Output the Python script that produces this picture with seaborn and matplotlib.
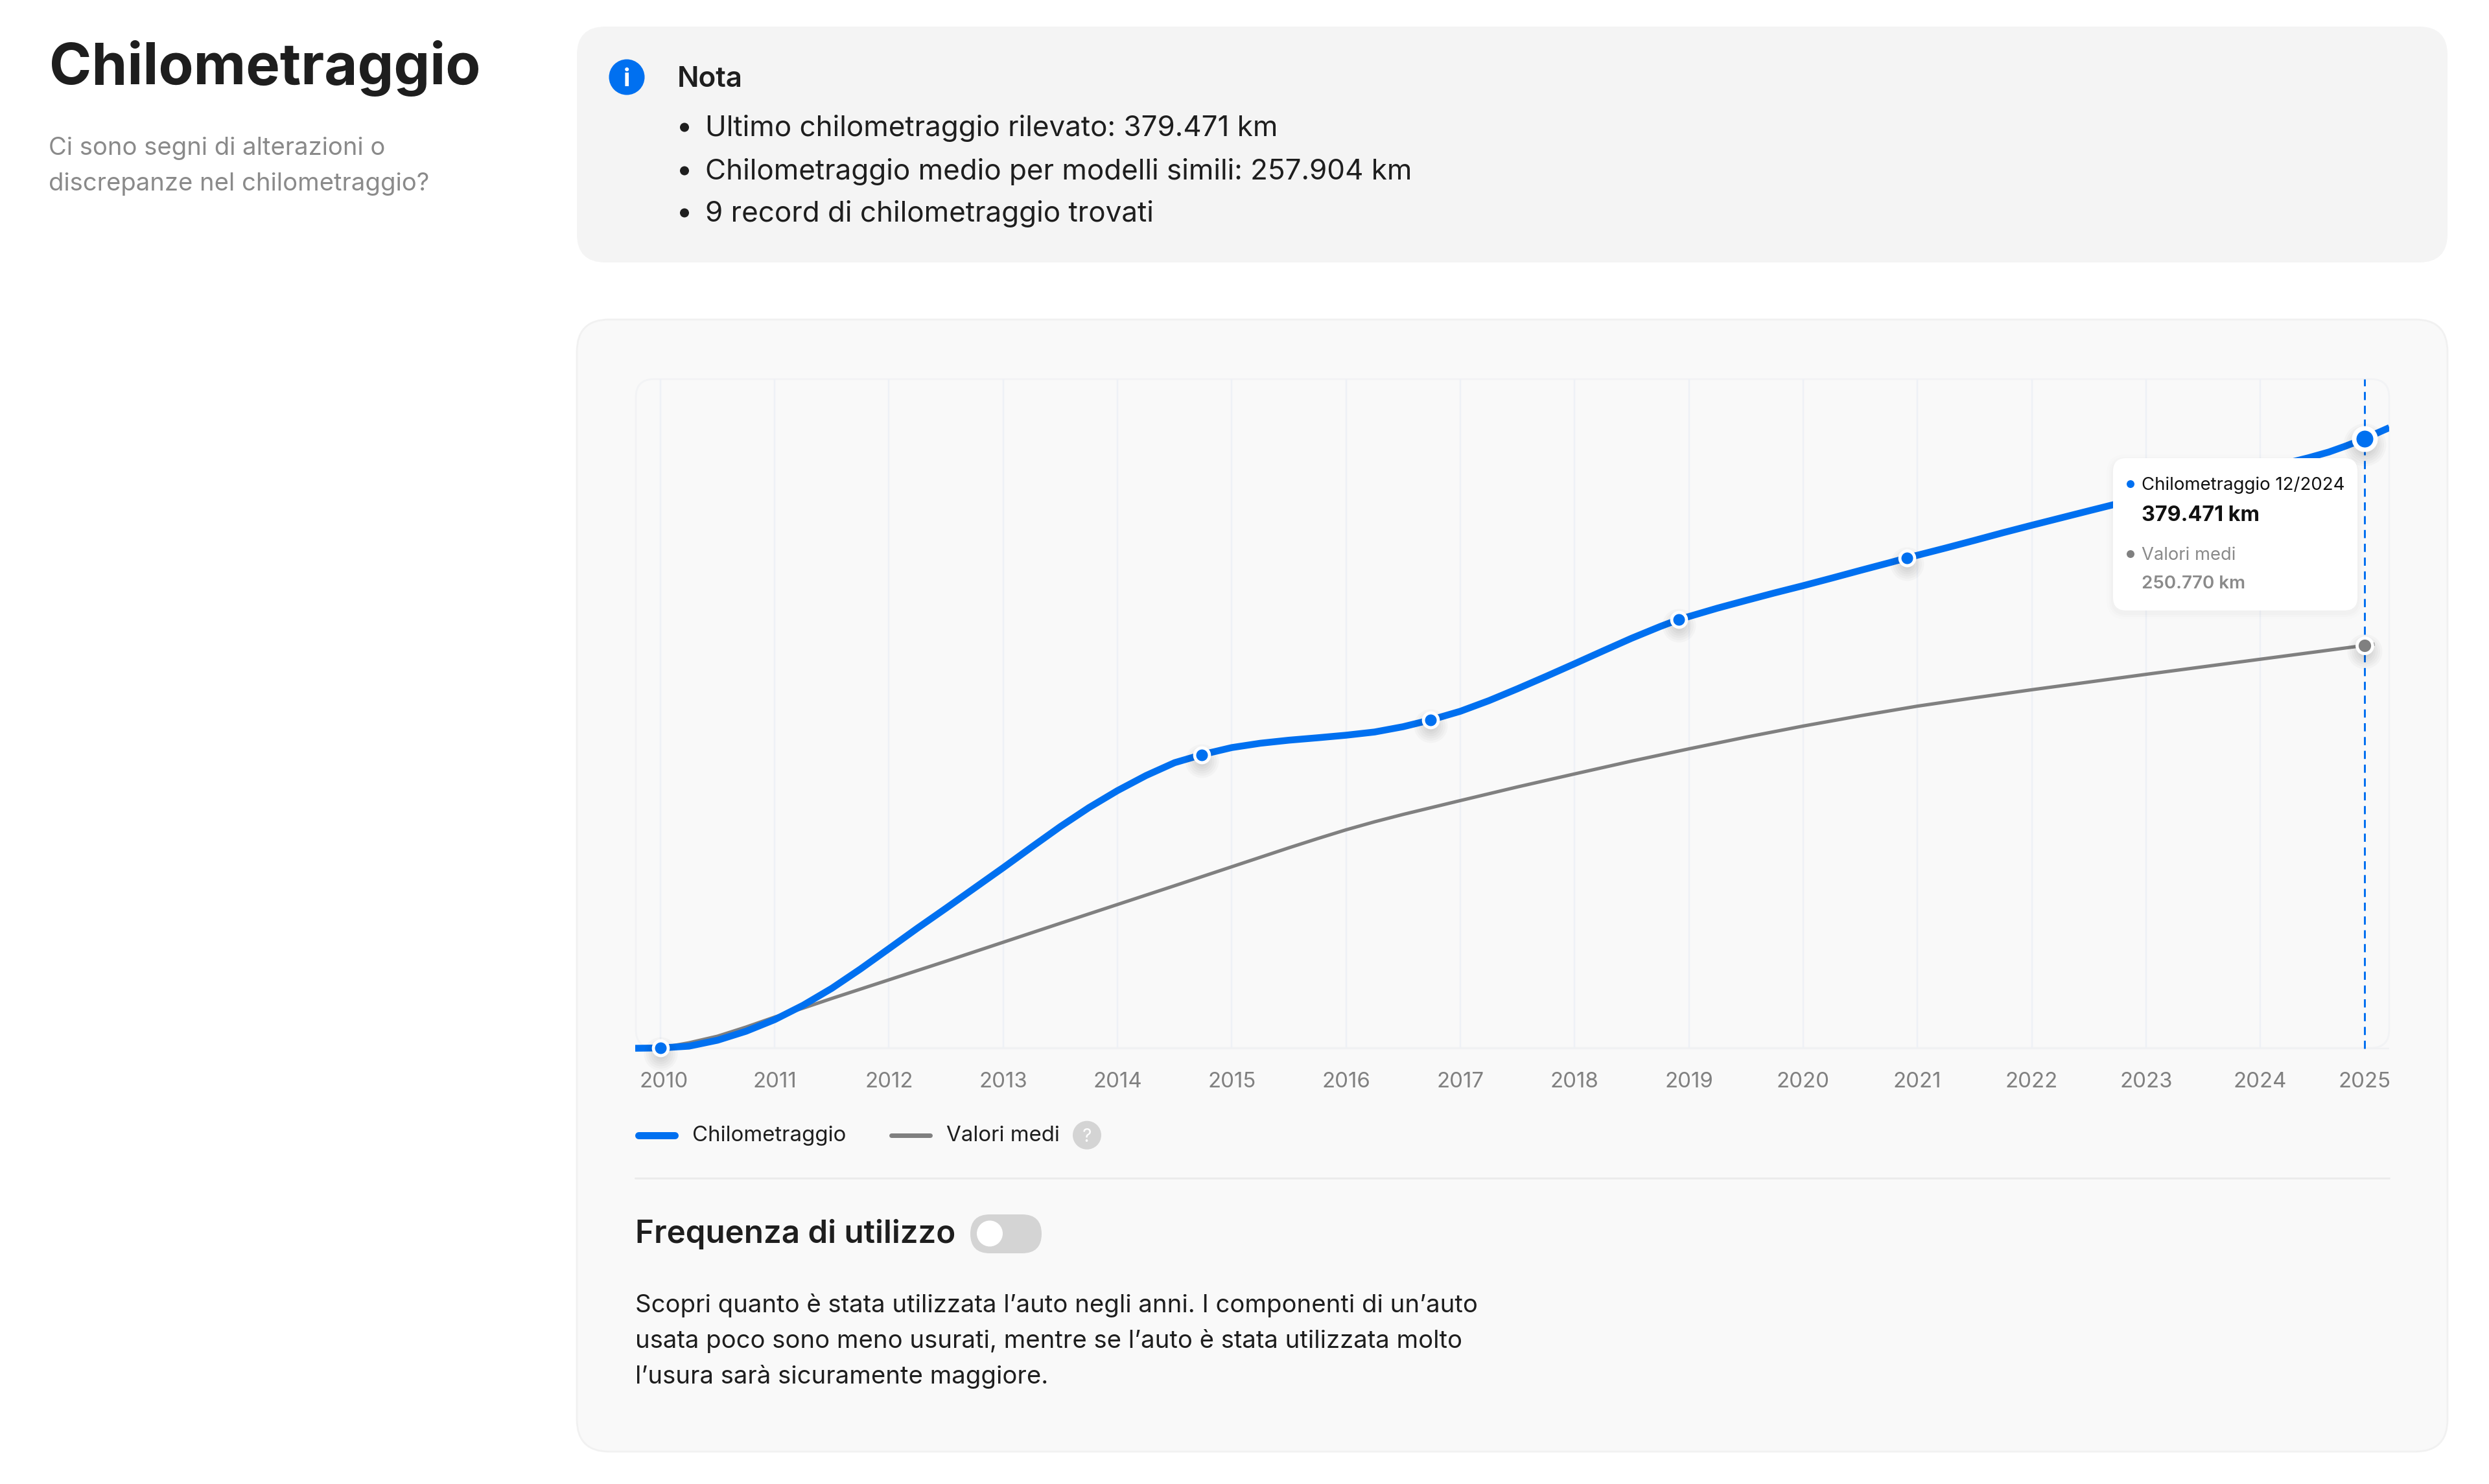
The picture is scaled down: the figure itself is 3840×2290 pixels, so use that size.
import matplotlib
matplotlib.use('Agg')
import matplotlib.pyplot as plt
from matplotlib.patches import FancyBboxPatch, Circle
from matplotlib.lines import Line2D
from matplotlib.transforms import offset_copy
import pandas as pd
import seaborn as sns

# ------------- data (km in thousands) -------------
YEARS = list(range(2010, 2026))

KM_X = [2009.78, 2010.0, 2010.25, 2010.5, 2010.75, 2011.0, 2011.25, 2011.5, 2011.75,
        2012.0, 2012.25, 2012.5, 2012.75, 2013.0, 2013.25, 2013.5, 2013.75,
        2014.0, 2014.25, 2014.5, 2014.75, 2015.0, 2015.25, 2015.5, 2015.75,
        2016.0, 2016.25, 2016.5, 2016.74, 2017.0, 2017.25, 2017.5, 2017.75,
        2018.0, 2018.25, 2018.5, 2018.75, 2018.91, 2019.25, 2019.5, 2019.75,
        2020.0, 2020.25, 2020.5, 2020.75, 2020.91, 2021.25, 2021.5, 2021.75,
        2022.0, 2022.5, 2023.0, 2023.5, 2024.0, 2024.25, 2024.42, 2024.6, 2024.75,
        2024.91, 2025.0, 2025.13]
KM_Y = [0, 0.2, 1.3, 5.0, 10.6, 17.8, 26.8, 37.3, 49.3,
        62.0, 74.8, 87.2, 99.8, 112.4, 125.3, 138.0, 149.8,
        160.4, 169.8, 177.8, 183.0, 187.2, 189.9, 191.8, 193.3,
        194.9, 196.9, 200.2, 204.4, 209.8, 216.4, 223.8, 231.5,
        239.4, 247.4, 255.3, 262.6, 266.9, 274.0, 278.8, 283.5,
        288.0, 292.7, 297.5, 302.2, 305.3, 311.5, 316.2, 321.0,
        325.6, 334.6, 343.5, 352.2, 360.5, 364.6, 367.6, 371.2, 375.0,
        379.471, 382.3, 386.4]

AVG_X = [2010.0, 2010.25, 2010.5, 2010.75, 2011.0, 2011.25, 2011.5, 2012.0, 2012.5, 2013.0,
         2013.5, 2014.0, 2014.5, 2015.0, 2015.5, 2015.75, 2016.0, 2016.25, 2016.5, 2017.0,
         2017.5, 2018.0, 2018.5, 2019.0, 2019.5, 2020.0, 2020.5, 2021.0, 2021.5, 2022.0,
         2022.5, 2023.0, 2023.5, 2024.0, 2024.5, 2024.91, 2025.0]
AVG_Y = [0.2, 3.4, 7.5, 13.2, 19.4, 25.0, 31.0, 42.6, 54.2, 66.0,
         77.8, 89.5, 101.2, 113.0, 124.8, 130.5, 136.0, 141.0, 145.6, 154.2,
         162.7, 170.8, 178.8, 186.4, 193.7, 200.6, 207.0, 213.0, 218.2, 223.2,
         228.0, 232.8, 237.5, 242.2, 246.9, 250.77, 251.6]

REC_X = [2010.0, 2014.74, 2016.74, 2018.91, 2020.91]
REC_Y = [0.2, 182.8, 204.4, 266.9, 305.3]
LAST_X = 2024.91
LAST_KM = 379.471
LAST_AVG = 250.77

NOTE_LINES = ['Ultimo chilometraggio rilevato: 379.471 km',
              'Chilometraggio medio per modelli simili: 257.904 km',
              '9 record di chilometraggio trovati']
BODY_LINES = ['Scopri quanto è stata utilizzata l’auto negli anni. I componenti di un’auto',
              'usata poco sono meno usurati, mentre se l’auto è stata utilizzata molto',
              'l’usura sarà sicuramente maggiore.']

# ------------- theme -------------
BLUE = '#0070f0'
GREY = '#808080'
DARK = '#1e1e1e'
MUTED = '#8a8a8a'
sns.set_theme(style='white')
plt.rcParams['font.family'] = ['Inter', 'DejaVu Sans']

W, H = 3840, 2290


def pt(n):
    # pixels to points at dpi 100
    return n * 0.72


def full_axes(zorder):
    a = fig.add_axes([0, 0, 1, 1], zorder=zorder)
    a.set_xlim(0, W)
    a.set_ylim(H, 0)
    a.axis('off')
    a.patch.set_alpha(0)
    return a


def box(a, x0, y0, x1, y1, r, **kw):
    a.add_patch(FancyBboxPatch((x0 + r, y0 + r), x1 - x0 - 2 * r, y1 - y0 - 2 * r,
                               boxstyle=f'round,pad={r},rounding_size={r}', **kw))


fig = plt.figure(figsize=(W / 100, H / 100), dpi=100, facecolor='white')
bg = full_axes(0)
fg = full_axes(5)

# ------------- page background blocks -------------
box(bg, 890, 41, 3776, 405, 44, fc='#f4f4f4', ec='none')
box(bg, 890, 493, 3776, 2240, 50, fc='#f9f9f9', ec='#f1f1f1', lw=2)
box(bg, 981, 585, 3686, 1617, 28, fc='#f9f9f9', ec='#f2f3f5', lw=2)

bg.text(76, 130, 'Chilometraggio', fontsize=pt(88.4), fontweight='bold', color=DARK, va='baseline')
bg.text(75, 239, 'Ci sono segni di alterazioni o', fontsize=pt(38.2), color=MUTED, va='baseline')
bg.text(75, 294, 'discrepanze nel chilometraggio?', fontsize=pt(38.2), color=MUTED, va='baseline')

# info icon
bg.add_patch(Circle((967, 119), 27.5, fc=BLUE, ec='none'))
bg.text(967, 133, 'i', fontsize=pt(38), fontweight='bold', color='white', ha='center', va='baseline')
bg.text(1045, 134, 'Nota', fontsize=pt(44), fontweight='semibold', color=DARK, va='baseline')
for base, line in zip([210, 277, 342], NOTE_LINES):
    bg.add_patch(Circle((1056, base - 13.5), 7, fc=DARK, ec='none'))
    bg.text(1088, base, line, fontsize=pt(44), color=DARK, va='baseline')

# ------------- chart -------------
x_lo, x_hi = 2009.78, 2025.128
y_per_km = 2.4786
bottom_px = 1632
top_px = 585
ax = fig.add_axes([980 / W, 1 - bottom_px / H, (3686 - 980) / W, (bottom_px - top_px) / H], zorder=2)
ax.patch.set_alpha(0)
ax.set_xlim(x_lo, x_hi)
ax.set_ylim((1617.6 - bottom_px) / y_per_km, (1617.6 - top_px) / y_per_km)
sns.despine(ax=ax, left=True, bottom=True, top=True, right=True)

ax.vlines(YEARS[:-1], 0, ax.get_ylim()[1], color='#eef1f6', lw=pt(2.5), zorder=1)
ax.hlines(0, x_lo, x_hi, color='#f0f1f3', lw=pt(2.5), zorder=1)
ax.vlines(LAST_X, 0, ax.get_ylim()[1], color=BLUE, lw=pt(3), linestyles=(0, (4.2, 2.9)), zorder=2)

km_df = pd.DataFrame({'year': KM_X, 'km': KM_Y})
avg_df = pd.DataFrame({'year': AVG_X, 'km': AVG_Y})
sns.lineplot(data=avg_df, x='year', y='km', color=GREY, lw=pt(5.2), ax=ax, legend=False, errorbar=None, zorder=3)
sns.lineplot(data=km_df, x='year', y='km', color=BLUE, lw=pt(10.5), ax=ax, legend=False, errorbar=None, zorder=4)
for ln in ax.get_lines():
    ln.set_solid_capstyle('butt')
    ln.set_solid_joinstyle('round')


def shadow(xs, ys, top_r):
    # soft drop shadow under a point
    tr = offset_copy(ax.transData, fig=fig, x=0, y=-9, units='dots')
    for k in range(6):
        r = top_r + 14 - k * 3.5
        ax.scatter(xs, ys, s=(2 * pt(r)) ** 2, color='black', alpha=0.022, lw=0, transform=tr, zorder=4.5, clip_on=False)


shadow(REC_X, REC_Y, 12)
shadow([LAST_X], [LAST_KM], 19)
shadow([LAST_X], [LAST_AVG], 13)
sns.scatterplot(x=REC_X, y=REC_Y, color=BLUE, s=(2 * pt(11.4)) ** 2, edgecolor='white', linewidth=pt(4.8), ax=ax, zorder=5, legend=False, clip_on=False)
sns.scatterplot(x=[LAST_X], y=[LAST_KM], color=BLUE, s=(2 * pt(16.5)) ** 2, edgecolor='white', linewidth=pt(7), ax=ax, zorder=6, legend=False, clip_on=False)
sns.scatterplot(x=[LAST_X], y=[LAST_AVG], color=GREY, s=(2 * pt(12)) ** 2, edgecolor='white', linewidth=pt(4.8), ax=ax, zorder=6, legend=False, clip_on=False)

# first and last labels get pulled inside the plot area
label_pos = list(YEARS)
label_pos[0] = 2010.03
label_pos[-1] = 2024.91
ax.set_xticks(label_pos, [str(y) for y in YEARS])
ax.set_yticks([])
ax.set_xlabel('')
ax.set_ylabel('')
ax.tick_params(axis='x', length=0, pad=pt(22), labelsize=pt(33), labelcolor=GREY)

# ------------- legend -------------
fg.add_line(Line2D([985, 1041], [1751.7, 1751.7], color=BLUE, lw=pt(11), solid_capstyle='round'))
fg.text(1068, 1761, 'Chilometraggio', fontsize=pt(33), color=DARK, va='baseline')
fg.add_line(Line2D([1375, 1435], [1751.7, 1751.7], color=GREY, lw=pt(7), solid_capstyle='round'))
fg.text(1460, 1761, 'Valori medi', fontsize=pt(33), color=DARK, va='baseline')
fg.add_patch(Circle((1677, 1751.7), 22, fc='#d4d4d4', ec='none'))
fg.text(1677, 1762, '?', fontsize=pt(28), color='white', ha='center', va='baseline')
fg.add_line(Line2D([980, 3686], [1817.7, 1817.7], color='#ebebeb', lw=pt(3)))

# ------------- toggle + text -------------
fg.text(980, 1918, 'Frequenza di utilizzo', fontsize=pt(49.3), fontweight='semibold', color=DARK, va='baseline')
box(fg, 1497, 1874, 1607, 1934, 30, fc='#d4d4d4', ec='none')
fg.add_patch(Circle((1527, 1903.5), 20, fc='white', ec='none'))
for base, line in zip([2025, 2080, 2135], BODY_LINES):
    fg.text(980, base, line, fontsize=pt(38.3), color=DARK, va='baseline')

# ------------- tooltip -------------
for grow, alpha in [(10, 0.008), (6, 0.01), (3, 0.012)]:
    box(fg, 3260 - grow, 707 - grow + 4, 3637 + grow, 942 + grow + 4, 20 + grow, fc='black', ec='none', alpha=alpha)
box(fg, 3260, 707, 3637, 942, 20, fc='white', ec='none')
fg.add_patch(Circle((3287, 747), 6, fc=BLUE, ec='none'))
fg.text(3304, 756, 'Chilometraggio 12/2024', fontsize=pt(27.6), color='#111111', va='baseline')
fg.text(3304, 804, '379.471 km', fontsize=pt(32.4), fontweight='bold', color='#111111', va='baseline')
fg.add_patch(Circle((3287, 855), 6, fc=GREY, ec='none'))
fg.text(3304, 864, 'Valori medi', fontsize=pt(27.4), color=MUTED, va='baseline')
fg.text(3304, 908, '250.770 km', fontsize=pt(27.8), fontweight='semibold', color=MUTED, va='baseline')

fig.savefig('out.png', dpi=100)
